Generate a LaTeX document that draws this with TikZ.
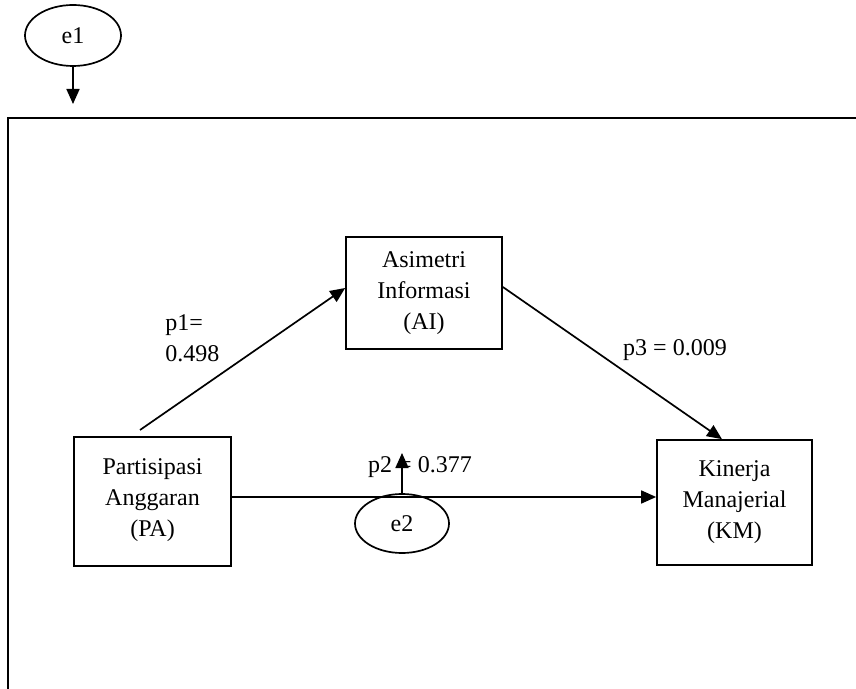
\documentclass[tikz,border=0pt]{standalone}
\usepackage{fontspec}
\setmainfont{Liberation Serif}
\usetikzlibrary{arrows.meta,shapes.geometric,calc}
\begin{document}
\begin{tikzpicture}[x=0.5pt,y=-0.5pt,
  every node/.style={font=\fontsize{12}{15.5}\selectfont},
  varbox/.style={draw,line width=0.85pt,align=center,inner sep=0pt},
  errell/.style={draw,ellipse,line width=0.85pt,inner sep=0pt},
  arr/.style={line width=0.85pt,-{Triangle[length=7.5pt,width=6.5pt]}},
  lbl/.style={inner sep=0pt}
]
\useasboundingbox (0,0) rectangle (856,689);
% frame
\draw[line width=1.1pt] (856,118) -- (8,118) -- (8,689);
% nodes
\node[errell,minimum width=48pt,minimum height=30.5pt] (e1) at (73,35.5) {e1};
\node[varbox,minimum width=78pt,minimum height=56pt] (ai) at (424,293) {Asimetri\\Informasi\\(AI)};
\node[varbox,minimum width=78.5pt,minimum height=64.5pt,text depth=4pt] (pa) at (152.5,501.5) {Partisipasi\\Anggaran\\(PA)};
\node[varbox,minimum width=77.5pt,minimum height=62.5pt] (km) at (734.5,502.5) {Kinerja\\Manajerial\\(KM)};
\node[errell,minimum width=47pt,minimum height=29.5pt] (e2) at (402,523.5) {e2};
% free ends
\coordinate (e1tip) at (73,104);
\coordinate (p1s) at (140,430);
\coordinate (hs) at ($(pa.east)+(0,-4.5)$);
\coordinate (e2tip) at (402,453);
% connectors
\draw[arr] (e1.south) -- (e1tip);
\draw[arr] (p1s) -- ($(ai.west)+(0,-5)$);
\draw[arr] ($(ai.east)+(0,-6)$) -- ($(km.north)+(-12.5,0)$);
\draw[arr] (hs) -- (hs -| km.west);
\draw[arr] (e2.north) -- (e2tip);
% labels
\node[lbl,anchor=west,align=left] (l1) at (165,338) {p1=\\0.498};
\node[lbl] (l2) at (420,467) {p2 = 0.377};
\node[lbl] (l3) at (675,350) {p3 = 0.009};
\end{tikzpicture}
\end{document}
